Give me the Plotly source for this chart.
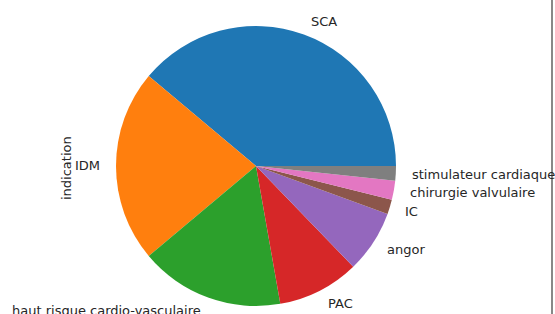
import math
import plotly.graph_objects as go

labels = ["SCA", "IDM", "haut risque cardio-vasculaire", "PAC", "angor", "IC",
          "chirurgie valvulaire", "stimulateur cardiaque"]
counts = [70, 40, 30, 17, 13, 3, 4, 3]
colors = ["#1f77b4", "#ff7f0e", "#2ca02c", "#d62728", "#9467bd", "#8c564b",
          "#e377c2", "#7f7f7f"]
ylabel = "indication"

W, H = 555, 314
cx_px, cy_px, r_px = 256, 166, 140

total = sum(counts)
# first wedge should start at 3 o'clock and run counterclockwise (matplotlib default)
rot = 90 - 360 * counts[0] / total

fig = go.Figure(go.Pie(
    labels=labels, values=counts, sort=False, direction="counterclockwise",
    rotation=rot, textinfo="none", hoverinfo="label+value",
    marker=dict(colors=colors, line=dict(width=0)),
    domain=dict(x=[(cx_px - r_px) / W, (cx_px + r_px) / W],
                y=[(H - cy_px - r_px) / H, (H - cy_px + r_px) / H]),
    showlegend=False, automargin=False,
))

cum = 0
annotations = []
for lab, v in zip(labels, counts):
    mid = (cum + v / 2) / total * 2 * math.pi
    cum += v
    x = (cx_px + 1.1 * r_px * math.cos(mid)) / W
    y = (H - cy_px + 1.1 * r_px * math.sin(mid)) / H
    annotations.append(dict(
        x=x, y=y, xref="paper", yref="paper", text=lab, showarrow=False,
        xanchor="left" if math.cos(mid) > 0 else "right", yanchor="middle",
        font=dict(family="DejaVu Sans", size=13, color="#262626")))

annotations.append(dict(
    x=66 / W, y=(H - 168) / H, xref="paper", yref="paper", text=ylabel,
    showarrow=False, textangle=-90, xanchor="center", yanchor="middle",
    font=dict(family="DejaVu Sans", size=13, color="#262626")))

fig.update_layout(
    width=W, height=H, margin=dict(l=0, r=0, t=0, b=0),
    paper_bgcolor="white", plot_bgcolor="white",
    annotations=annotations,
    shapes=[dict(type="line", xref="paper", yref="paper", x0=552 / W, x1=552 / W,
                 y0=0, y1=1, line=dict(color="#888888", width=2))],
)

fig.write_html("out.html", config={"displayModeBar": False},
               post_script="document.body.style.margin='0';document.body.style.overflow='hidden';")
